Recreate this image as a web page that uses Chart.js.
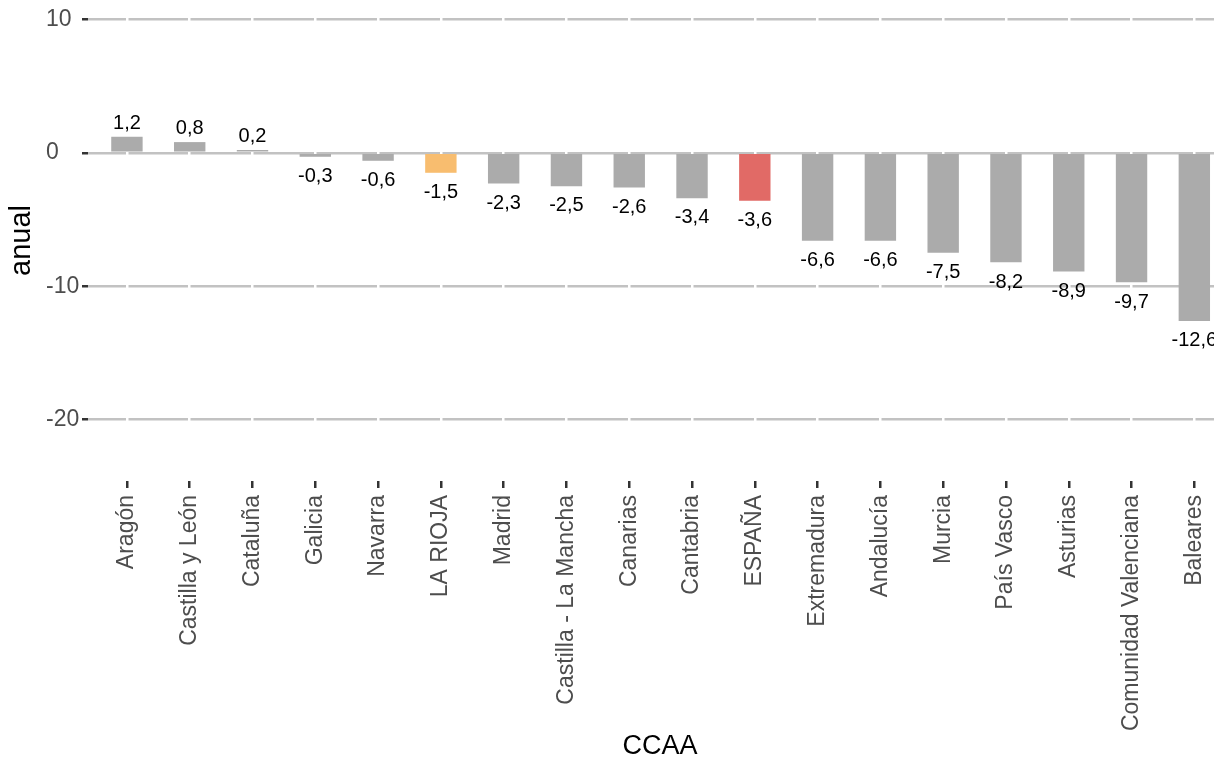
<!DOCTYPE html>
<html>
<head>
<meta charset="utf-8">
<script src="https://cdn.jsdelivr.net/npm/chart.js@4"></script>
<style>
  html, body { margin: 0; padding: 0; background: #fff; overflow: hidden; }
  #wrap { width: 1232px; height: 760px; }
</style>
</head>
<body>
<div id="wrap"><canvas id="grafico" width="1232" height="760"></canvas></div>
<script>
// datos: variación anual por comunidad autónoma
const categorias = [
  "Aragón", "Castilla y León", "Cataluña", "Galicia", "Navarra", "LA RIOJA",
  "Madrid", "Castilla - La Mancha", "Canarias", "Cantabria", "ESPAÑA",
  "Extremadura", "Andalucía", "Murcia", "País Vasco", "Asturias",
  "Comunidad Valenciana", "Baleares"
];
const valores = [
  1.2, 0.8, 0.2, -0.3, -0.6, -1.5, -2.3, -2.5, -2.6, -3.4, -3.6,
  -6.6, -6.6, -7.5, -8.2, -8.9, -9.7, -12.6
];
const ticksY = [-20, -10, 0, 10];

// colores destacados
const colorBase = "#ABABAB";
const colorDestacado = { "LA RIOJA": "#F8BD6F", "ESPAÑA": "#E16A66" };

const fuente = "'Liberation Sans', Arial, sans-serif";

// etiquetas de valor encima / debajo de cada barra
const etiquetasValor = {
  id: "etiquetasValor",
  afterDatasetsDraw(chart) {
    const ctx = chart.ctx;
    const meta = chart.getDatasetMeta(0);
    const size = 20;
    ctx.save();
    ctx.font = size + "px " + fuente;
    ctx.fillStyle = "#000";
    ctx.textAlign = "center";
    ctx.textBaseline = "alphabetic";
    meta.data.forEach((bar, i) => {
      const v = valores[i];
      const txt = v.toFixed(1).replace(".", ",");
      const y = v >= 0 ? bar.y - 8 : bar.y + 11 + size * 0.716;
      ctx.fillText(txt, bar.x, y);
    });
    ctx.restore();
  },
};

const ctx = document.getElementById("grafico").getContext("2d");
new Chart(ctx, {
  type: "bar",
  data: {
    datasets: [
      {
        data: valores.map((v, i) => ({ x: i, y: v })),
        backgroundColor: categorias.map((c) => colorDestacado[c] || colorBase),
        borderWidth: 0,
        categoryPercentage: 1,
        barPercentage: 0.5,
      },
    ],
  },
  options: {
    responsive: false,
    animation: false,
    layout: { padding: { left: 46, top: 0, right: 0, bottom: 0 } },
    plugins: {
      legend: { display: false },
      tooltip: { enabled: false },
    },
    scales: {
      x: {
        type: "linear",
        min: -0.62,
        max: categorias.length - 1 + 0.6,
        offset: false,
        afterBuildTicks(scale) {
          scale.ticks = categorias.map((_, i) => ({ value: i }));
        },
        afterFit(scale) {
          scale.height = 760 - 481;
          scale.paddingLeft = 0;
          scale.paddingRight = 0;
        },
        grid: {
          offset: false,
          color: "#FFFFFF",
          lineWidth: 2.5,
          z: -0.5,
          drawTicks: true,
          tickLength: 7,
          tickColor: "#333333",
          tickWidth: 2.5,
        },
        border: { display: false },
        ticks: {
          autoSkip: false,
          minRotation: 90,
          maxRotation: 90,
          padding: 7,
          color: "#4D4D4D",
          font: { family: fuente, size: 23 },
          callback: (value) => categorias[value],
        },
        title: {
          display: true,
          text: "CCAA",
          color: "#000",
          font: { family: fuente, size: 27, lineHeight: 1 },
          padding: { top: 0, bottom: 0 },
        },
      },
      y: {
        min: -24.6,
        max: 11.45,
        afterBuildTicks(scale) {
          scale.ticks = ticksY.map((v) => ({ value: v }));
        },
        afterFit(scale) {
          scale.width = 42;
          scale.paddingTop = 0;
          scale.paddingBottom = 0;
        },
        grid: {
          color: "#C2C2C2",
          lineWidth: 2.5,
          tickLength: 6,
          tickColor: "#333333",
          tickWidth: 2.5,
        },
        border: { display: false },
        ticks: {
          crossAlign: "far",
          padding: 6,
          color: "#4D4D4D",
          font: { family: fuente, size: 23 },
        },
        title: {
          display: true,
          text: "anual",
          color: "#000",
          font: { family: fuente, size: 29, lineHeight: 1 },
          padding: { top: -39, bottom: 0 },
        },
      },
    },
  },
  plugins: [etiquetasValor],
});
</script>
</body>
</html>
